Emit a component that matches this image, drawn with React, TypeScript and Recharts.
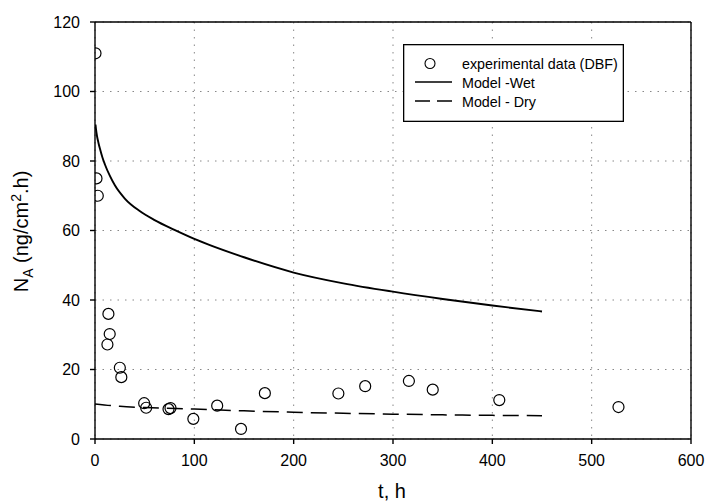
import React from 'react';
import {
  ComposedChart,
  Scatter,
  Line,
  XAxis,
  YAxis,
  CartesianGrid,
  Legend,
  ReferenceLine,
} from 'recharts';

// experimental points (DBF)
const expT = [0.5, 1.5, 2.8, 12.5, 13.5, 14.8, 25, 26.5, 49.5, 51.5, 74, 76, 99, 123, 147, 171, 245, 272, 316, 340, 407, 527];
const expN = [111, 75, 70, 27.2, 36, 30.2, 20.5, 17.8, 10.3, 9.0, 8.6, 8.9, 5.8, 9.6, 2.9, 13.2, 13.1, 15.2, 16.7, 14.2, 11.2, 9.2];

// model - wet
const wetT = [0.5, 1, 2, 3.5, 5, 7.5, 10, 15, 20, 30, 45, 60, 80, 100, 150, 200, 250, 300, 350, 400, 450];
const wetN = [90.5, 89.2, 87.2, 85.2, 83.5, 81.0, 79.0, 75.7, 73.0, 69.2, 65.6, 63.0, 60.2, 57.6, 52.3, 47.9, 44.8, 42.4, 40.3, 38.4, 36.7];

// model - dry
const dryT = [0, 25, 50, 100, 150, 200, 250, 300, 350, 400, 450];
const dryN = [10.1, 9.4, 9.05, 8.6, 8.1, 7.7, 7.4, 7.15, 6.95, 6.8, 6.7];

const xTicks = [0, 100, 200, 300, 400, 500, 600];
const yTicks = [0, 20, 40, 60, 80, 100, 120];

const expData = expT.map((t, i) => ({ t, n: expN[i] }));
const wetData = wetT.map((t, i) => ({ t, n: wetN[i] }));
const dryData = dryT.map((t, i) => ({ t, n: dryN[i] }));

const FONT = '"Liberation Sans", Arial, sans-serif';

const OpenCircle = (props: any) => {
  const { cx, cy } = props;
  return <circle cx={cx} cy={cy} r={5.5} fill="none" stroke="#000" strokeWidth={1.2} />;
};

const LegendBox = () => (
  <svg width={221} height={78} style={{ display: 'block', fontFamily: FONT }}>
    <rect x={0.65} y={0.65} width={219.7} height={76.7} fill="#fff" stroke="#000" strokeWidth={1.3} />
    <circle cx={27} cy={19.5} r={5} fill="none" stroke="#000" strokeWidth={1.1} />
    <text x={59} y={24.5} fontSize={14.3} fill="#000">experimental data (DBF)</text>
    <line x1={12} x2={49} y1={38} y2={38} stroke="#000" strokeWidth={1.4} />
    <text x={59} y={43.5} fontSize={14.3} fill="#000">Model -Wet</text>
    <line x1={12} x2={49} y1={57} y2={57} stroke="#000" strokeWidth={1.4} strokeDasharray="15 7" />
    <text x={59} y={62.5} fontSize={14.3} fill="#000">Model - Dry</text>
  </svg>
);

const YLabel = (props: any) => {
  const vb = props.viewBox || { x: 0, y: 22, width: 95, height: 417 };
  const cx = 28;
  const cy = vb.y + vb.height / 2 + 1;
  return (
    <text
      x={cx}
      y={cy}
      textAnchor="middle"
      transform={`rotate(-90, ${cx}, ${cy})`}
      fontSize={20}
      fontFamily={FONT}
      fill="#000"
    >
      N
      <tspan dy={5} fontSize={14}>A</tspan>
      <tspan dy={-5} fontSize={20}> (ng/cm</tspan>
      <tspan dy={-7} fontSize={14}>2</tspan>
      <tspan dy={7} fontSize={20}>.h)</tspan>
    </text>
  );
};

const XLabel = (props: any) => {
  const vb = props.viewBox || { x: 95, y: 439, width: 596, height: 64 };
  return (
    <text x={vb.x + vb.width / 2 - 1} y={vb.y + 59} textAnchor="middle" fontSize={20} fontFamily={FONT} fill="#000">
      t, h
    </text>
  );
};

export default function App() {
  const tickStyle = { fontSize: 16, fill: '#000', fontFamily: FONT };
  return (
    <div style={{ position: 'absolute', left: 0, top: 0, background: '#fff' }}>
      <ComposedChart width={707} height={503} margin={{ top: 22, right: 16, bottom: 0, left: 0 }}>
        <CartesianGrid stroke="#888" strokeDasharray="1.5 6" />
        <XAxis
          type="number"
          dataKey="t"
          domain={[0, 600]}
          ticks={xTicks}
          height={64}
          tickSize={5}
          tickMargin={11}
          tick={tickStyle}
          stroke="#000"
          strokeWidth={1.4}
          allowDataOverflow
          label={<XLabel />}
        />
        <YAxis
          type="number"
          dataKey="n"
          domain={[0, 120]}
          ticks={yTicks}
          width={95}
          tickSize={5}
          tickMargin={10}
          tick={tickStyle}
          stroke="#000"
          strokeWidth={1.4}
          allowDataOverflow
          label={<YLabel />}
        />
        <ReferenceLine y={120} stroke="#000" strokeWidth={1.4} />
        <ReferenceLine x={600} stroke="#000" strokeWidth={1.4} />
        <Line
          data={wetData}
          dataKey="n"
          type="monotone"
          stroke="#000"
          strokeWidth={1.9}
          dot={false}
          activeDot={false}
          isAnimationActive={false}
        />
        <Line
          data={dryData}
          dataKey="n"
          type="monotone"
          stroke="#000"
          strokeWidth={1.5}
          strokeDasharray="16 8"
          dot={false}
          activeDot={false}
          isAnimationActive={false}
        />
        <Scatter data={expData} dataKey="n" shape={<OpenCircle />} isAnimationActive={false} />
        <Legend
          layout="vertical"
          align="center"
          verticalAlign="middle"
          width={221}
          height={78}
          wrapperStyle={{ left: 403, top: 44, width: 221, height: 78 }}
          content={() => <LegendBox />}
        />
      </ComposedChart>
    </div>
  );
}
